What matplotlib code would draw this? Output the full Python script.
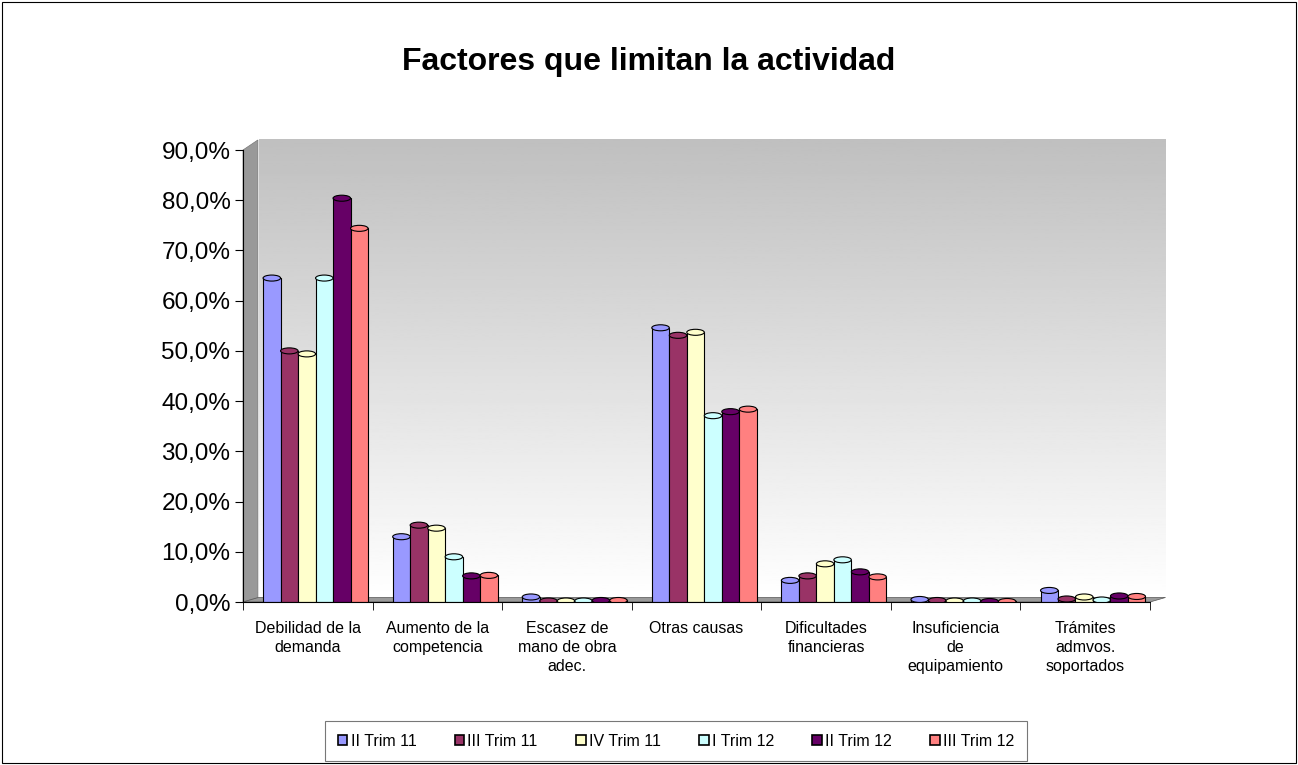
import numpy as np
import matplotlib.pyplot as plt
from matplotlib.patches import Rectangle, Polygon, Ellipse

plt.rcParams['font.family'] = ['Liberation Sans', 'DejaVu Sans']

categorias = ['Debilidad de la\ndemanda', 'Aumento de la\ncompetencia',
              'Escasez de\nmano de obra\nadec.', 'Otras causas',
              'Dificultades\nfinancieras', 'Insuficiencia\nde\nequipamiento',
              'Trámites\nadmvos.\nsoportados']
series = ['II Trim 11', 'III Trim 11', 'IV Trim 11', 'I Trim 12', 'II Trim 12', 'III Trim 12']
colores = ['#9999FF', '#993366', '#FFFFCC', '#CCFFFF', '#660066', '#FF8080']

ii_trim_11 = [64.5, 13.0, 1.0, 54.6, 4.3, 0.5, 2.3]
iii_trim_11 = [50.0, 15.3, 0.2, 53.1, 5.2, 0.3, 0.6]
iv_trim_11 = [49.4, 14.7, 0.2, 53.7, 7.6, 0.2, 1.0]
i_trim_12 = [64.5, 9.0, 0.2, 37.1, 8.4, 0.2, 0.4]
ii_trim_12 = [80.4, 5.2, 0.3, 37.9, 6.0, 0.1, 1.2]
iii_trim_12 = [74.4, 5.3, 0.3, 38.4, 5.0, 0.1, 1.1]
valores = [ii_trim_11, iii_trim_11, iv_trim_11, i_trim_12, ii_trim_12, iii_trim_12]

W, H = 1298, 765
fig = plt.figure(figsize=(W / 100, H / 100), dpi=100)
fig.patches.append(Rectangle((0.0015, 0.002), 0.997, 0.995, transform=fig.transFigure,
                             fill=False, edgecolor='black', linewidth=0.8))

ax = fig.add_axes([243 / W, 1 - 602 / H, (1150 - 243) / W, (602 - 150) / H])
ax.set_xlim(-0.5, 6.5)
ax.set_ylim(0, 90)

# fondo degradado (pared trasera): gris arriba, blanco abajo
grad = np.linspace(0, 1, 256).reshape(-1, 1)
ax.imshow(grad, cmap='gray', vmin=-3.0, vmax=1.0, aspect='auto',
          extent=[-0.38, 6.62, 0.9, 92.0], zorder=0, clip_on=False)
# pared lateral
ax.add_patch(Polygon([[-0.5, 0], [-0.385, 0.9], [-0.385, 92.0], [-0.5, 90]],
                     closed=True, facecolor='#999999', edgecolor='#777777',
                     linewidth=0.5, clip_on=False, zorder=1))
# suelo
ax.add_patch(Polygon([[-0.5, 0], [6.5, 0], [6.62, 0.9], [-0.38, 0.9]],
                     closed=True, facecolor='#9a9a9a', edgecolor='#555555',
                     linewidth=0.5, clip_on=False, zorder=1))

x = np.arange(len(categorias))
ancho = 0.135
for i, (nombre, vals) in enumerate(zip(series, valores)):
    pos = x + 0.06 + (i - 2.5) * ancho
    ax.bar(pos, vals, width=ancho, color=colores[i], edgecolor='black',
           linewidth=0.8, label=nombre, zorder=3)
    # tapa del cilindro
    for p, v in zip(pos, vals):
        ax.add_patch(Ellipse((p, v), ancho, 1.2, facecolor=colores[i],
                             edgecolor='black', linewidth=0.8, zorder=4))

ax.set_yticks(np.arange(0, 91, 10))
ax.set_yticklabels([f'{v:.1f}%'.replace('.', ',') for v in np.arange(0, 91, 10)], fontsize=17.5)
ax.set_xticks(x)
ax.set_xticklabels(categorias, fontsize=11.5, va='top', linespacing=1.3)
ax.tick_params(axis='x', length=0, pad=14)
ax.set_xticks(np.arange(-0.5, 7.0, 1.0), minor=True)
ax.tick_params(axis='x', which='minor', length=6, direction='out')
ax.tick_params(axis='y', length=6, direction='out', pad=3)

for s in ['top', 'right']:
    ax.spines[s].set_visible(False)
ax.spines['left'].set_zorder(5)
ax.spines['bottom'].set_zorder(5)

fig.text(0.5, 1 - 62 / H, 'Factores que limitan la actividad', ha='center', va='center',
         fontsize=23, fontweight='bold')

leg = fig.legend(loc='center', bbox_to_anchor=(676 / W, 1 - 741 / H), ncol=6, fontsize=11.5,
                 frameon=True, fancybox=False, handlelength=0.6, handleheight=0.6,
                 handletextpad=0.2, columnspacing=2.4, borderpad=0.8)
leg.get_frame().set_edgecolor('#555555')
leg.get_frame().set_linewidth(0.8)
for h in leg.legend_handles:
    h.set_edgecolor('black')
    h.set_linewidth(1.2)

fig.savefig('out.png', dpi=100)
